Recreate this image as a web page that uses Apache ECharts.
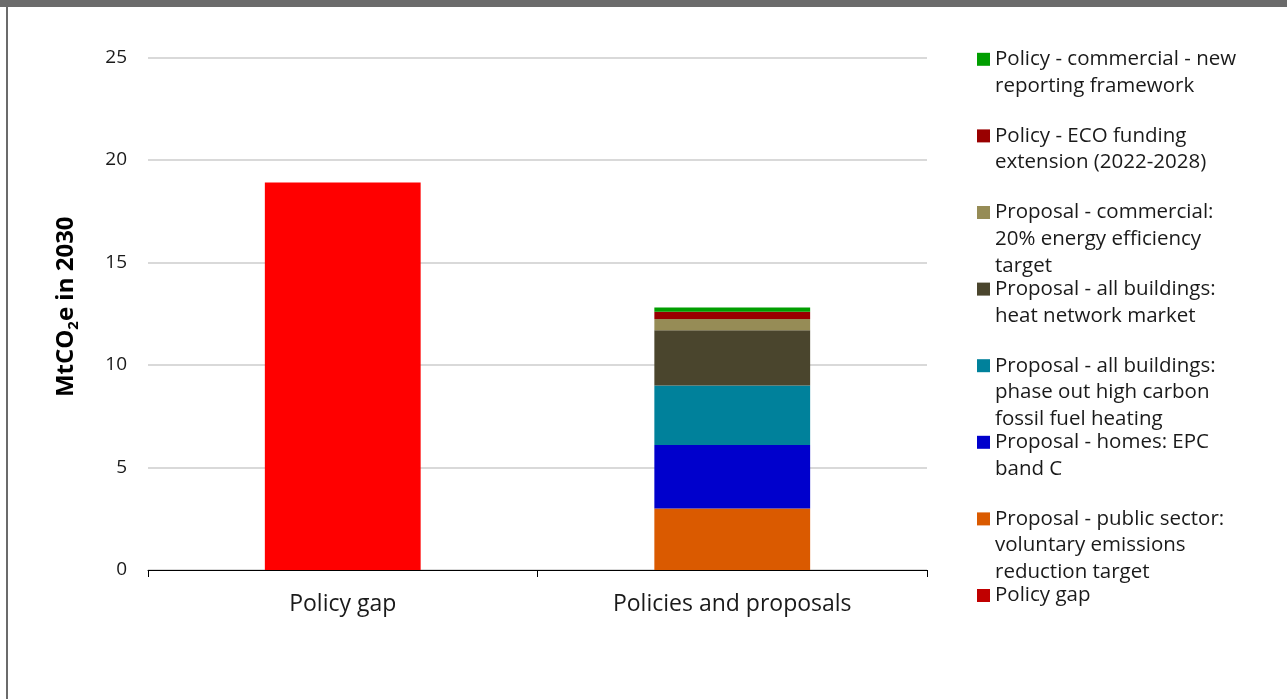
<!DOCTYPE html>
<html>
<head>
<meta charset="utf-8">
<title>Buildings: policy gap and policies and proposals</title>
<script src="https://cdn.jsdelivr.net/npm/echarts@6/dist/echarts.min.js"></script>
<style>
  html, body { margin: 0; padding: 0; background: #ffffff; }
  #chart { width: 1287px; height: 699px; }
</style>
</head>
<body>
<div id="chart"></div>
<script>
// Categories on the x axis
const categories = ['Policy gap', 'Policies and proposals'];

// Policy gap (left bar), MtCO2e in 2030
const policyGap = [18.9, '-'];

// Stacked contributions of policies and proposals (bottom to top)
const publicSector = ['-', 3.0];
const homesEpc = ['-', 3.1];
const phaseOutFossil = ['-', 2.9];
const heatNetwork = ['-', 2.7];
const commercialEfficiency = ['-', 0.55];
const ecoFunding = ['-', 0.35];
const commercialReporting = ['-', 0.2];

// Y axis ticks
const yMin = 0;
const yMax = 25;
const yStep = 5;

// Series names
const names = {
  reporting: 'Policy - commercial - new reporting framework',
  eco: 'Policy - ECO funding extension (2022-2028)',
  efficiency: 'Proposal - commercial: 20% energy efficiency target',
  heatNet: 'Proposal - all buildings: heat network market',
  phaseOut: 'Proposal - all buildings: phase out high carbon fossil fuel heating',
  epc: 'Proposal - homes: EPC band C',
  publicSec: 'Proposal - public sector: voluntary emissions reduction target',
  gap: 'Policy gap'
};

// Legend text, wrapped line by line
const legendLines = {};
legendLines[names.reporting] = ['Policy - commercial - new', 'reporting framework'];
legendLines[names.eco] = ['Policy - ECO funding', 'extension (2022-2028)'];
legendLines[names.efficiency] = ['Proposal - commercial:', '20% energy efficiency', 'target'];
legendLines[names.heatNet] = ['Proposal - all buildings:', 'heat network market'];
legendLines[names.phaseOut] = ['Proposal - all buildings:', 'phase out high carbon', 'fossil fuel heating'];
legendLines[names.epc] = ['Proposal - homes: EPC', 'band C'];
legendLines[names.publicSec] = ['Proposal - public sector:', 'voluntary emissions', 'reduction target'];
legendLines[names.gap] = ['Policy gap'];

// Legend order, top to bottom
const legendOrder = [
  names.reporting, names.eco, names.efficiency, names.heatNet,
  names.phaseOut, names.epc, names.publicSec, names.gap
];

const colors = {
  gapBar: '#FF0000',
  gapKey: '#C00000',
  publicSec: '#DA5A00',
  epc: '#0000CC',
  phaseOut: '#00819B',
  heatNet: '#4A452D',
  efficiency: '#968C56',
  eco: '#990000',
  reporting: '#009E00'
};

const FONT = '"Open Sans", "Noto Sans", sans-serif';
const TEXT = '#1A1A1A';
const LINE_H = 26.7;

function bar(name, data, color) {
  return {
    name: name,
    type: 'bar',
    stack: 'total',
    barWidth: '40%',
    data: data,
    itemStyle: { color: color },
    emphasis: { disabled: true }
  };
}

// One legend block per series. The key is centred on its text block, so blank
// lines are put above the text to bring the key level with the first line.
const legends = legendOrder.map(function (name, i) {
  const n = legendLines[name].length;
  const keyCenter = 59.3 + i * 76.6;
  const item = { name: name };
  if (name === names.gap) {
    item.itemStyle = { color: colors.gapKey };
  }
  return {
    orient: 'vertical',
    left: 977,
    top: keyCenter - (2 * n - 1) * LINE_H / 2,
    padding: 0,
    itemWidth: 13,
    itemHeight: 13,
    icon: 'rect',
    data: [item],
    formatter: function (nm) {
      const lines = legendLines[nm];
      const pad = [];
      for (let k = 1; k < lines.length; k++) pad.push(' ');
      return pad.concat(lines).join('\n');
    },
    textStyle: {
      fontFamily: FONT,
      fontSize: 20.5,
      color: TEXT,
      lineHeight: LINE_H
    }
  };
});

const chart = echarts.init(document.getElementById('chart'), null, { renderer: 'canvas' });

chart.setOption({
  animation: false,
  backgroundColor: '#FFFFFF',
  textStyle: { fontFamily: FONT },
  graphic: [
    { type: 'rect', left: 0, top: 0, shape: { width: 1287, height: 7 }, style: { fill: '#6B6B6B' }, silent: true },
    { type: 'rect', left: 6, top: 0, shape: { width: 2, height: 699 }, style: { fill: '#6B6B6B' }, silent: true }
  ],
  grid: {
    left: 148,
    right: 360,
    top: 57.5,
    bottom: 129,
    containLabel: false
  },
  legend: legends,
  xAxis: {
    type: 'category',
    data: categories,
    boundaryGap: true,
    axisLine: { show: true, lineStyle: { color: '#000000', width: 1 } },
    axisTick: { show: true, alignWithLabel: false, length: 7, lineStyle: { color: '#000000', width: 1 } },
    axisLabel: { fontFamily: FONT, fontSize: 23, color: TEXT, margin: 23 },
    splitLine: { show: false }
  },
  yAxis: {
    type: 'value',
    min: yMin,
    max: yMax,
    interval: yStep,
    axisLine: { show: false },
    axisTick: { show: false },
    axisLabel: { fontFamily: FONT, fontSize: 19, color: TEXT, margin: 21 },
    splitLine: { show: true, lineStyle: { color: '#D9D9D9', width: 2 } },
    name: '{a|MtCO}{b|2}{a|e in 2030}',
    nameLocation: 'middle',
    nameGap: 67,
    nameTextStyle: {
      padding: [0, 0, 0, 14],
      rich: {
        a: { fontFamily: FONT, fontSize: 24, fontWeight: 'bold', color: '#000000', lineHeight: 30 },
        b: { fontFamily: FONT, fontSize: 15, fontWeight: 'bold', color: '#000000', lineHeight: 14, verticalAlign: 'bottom' }
      }
    }
  },
  series: [
    bar(names.gap, policyGap, colors.gapBar),
    bar(names.publicSec, publicSector, colors.publicSec),
    bar(names.epc, homesEpc, colors.epc),
    bar(names.phaseOut, phaseOutFossil, colors.phaseOut),
    bar(names.heatNet, heatNetwork, colors.heatNet),
    bar(names.efficiency, commercialEfficiency, colors.efficiency),
    bar(names.eco, ecoFunding, colors.eco),
    bar(names.reporting, commercialReporting, colors.reporting)
  ]
});
</script>
</body>
</html>
